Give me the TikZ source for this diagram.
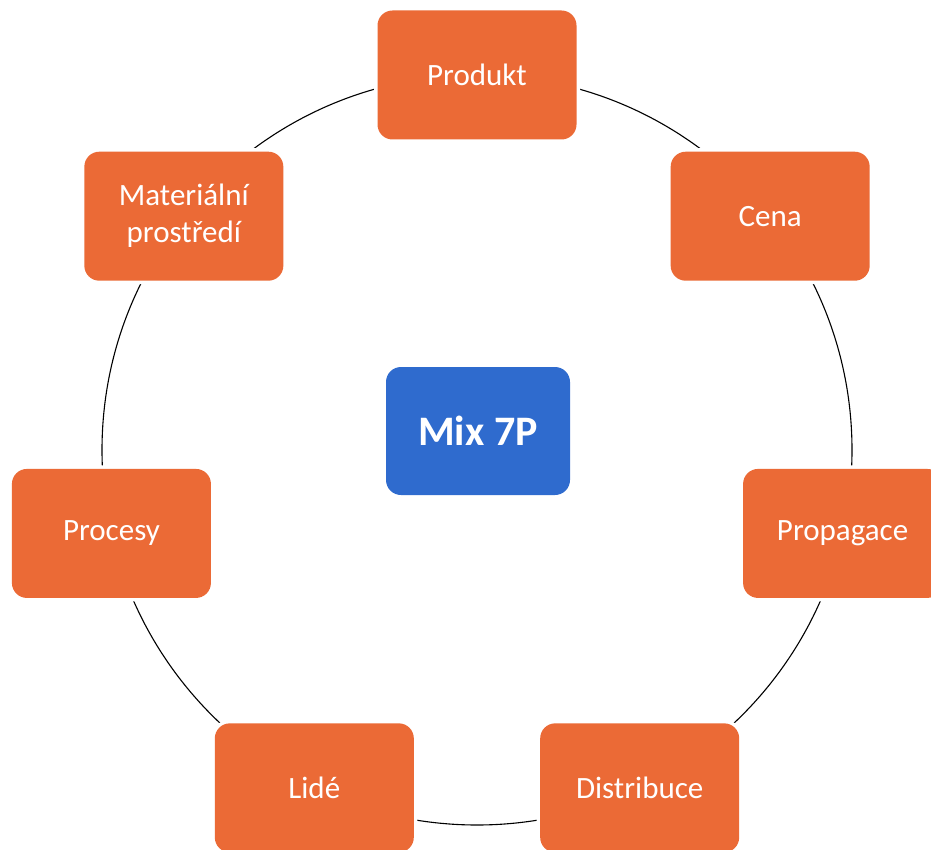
\documentclass[tikz,border=0pt]{standalone}
\usepackage{fontspec}
\setmainfont{Carlito}
\definecolor{boxorange}{RGB}{235,106,54}
\definecolor{boxblue}{RGB}{47,107,206}
\begin{document}
\begin{tikzpicture}[x=1pt,y=-1pt,
  pbox/.style={rectangle, rounded corners=15pt, fill=boxorange, text=white,
    minimum width=199pt, minimum height=129pt, inner sep=0pt, align=center,
    font=\fontsize{31}{37}\selectfont,
    preaction={draw=white, line width=7pt}},
  hub/.style={rectangle, rounded corners=15pt, fill=boxblue, text=white,
    minimum width=184pt, minimum height=128pt, inner sep=0pt, align=center,
    font=\fontsize{42}{50}\selectfont\bfseries},
  ring/.style={draw=black, line width=1.1pt}]
\useasboundingbox (0,0) rectangle (931,850);
\clip (0,0) rectangle (931,850);
\coordinate (c) at (477,450);
\draw[ring] (c) circle[radius=375pt];
\node[pbox] (produkt) at ({477+375*cos(90)},{450-375*sin(90)}) {Produkt};
\node[pbox] (cena) at ({477+375*cos(90-360/7)},{450-375*sin(90-360/7)}) {Cena};
\node[pbox] (propagace) at ({477+375*cos(90-2*360/7)},{450-375*sin(90-2*360/7)}) {Propagace};
\node[pbox] (distribuce) at ({477+375*cos(90-3*360/7)},{450-375*sin(90-3*360/7)}) {Distribuce};
\node[pbox] (lide) at ({477+375*cos(90-4*360/7)},{450-375*sin(90-4*360/7)}) {Lidé};
\node[pbox] (procesy) at ({477+375*cos(90-5*360/7)},{450-375*sin(90-5*360/7)}) {Procesy};
\node[pbox] (prostredi) at ({477+375*cos(90-6*360/7)},{450-375*sin(90-6*360/7)}) {Materiální\\prostředí};
\node[hub] (mix) at (478,431) {Mix 7P};
\end{tikzpicture}
\end{document}
